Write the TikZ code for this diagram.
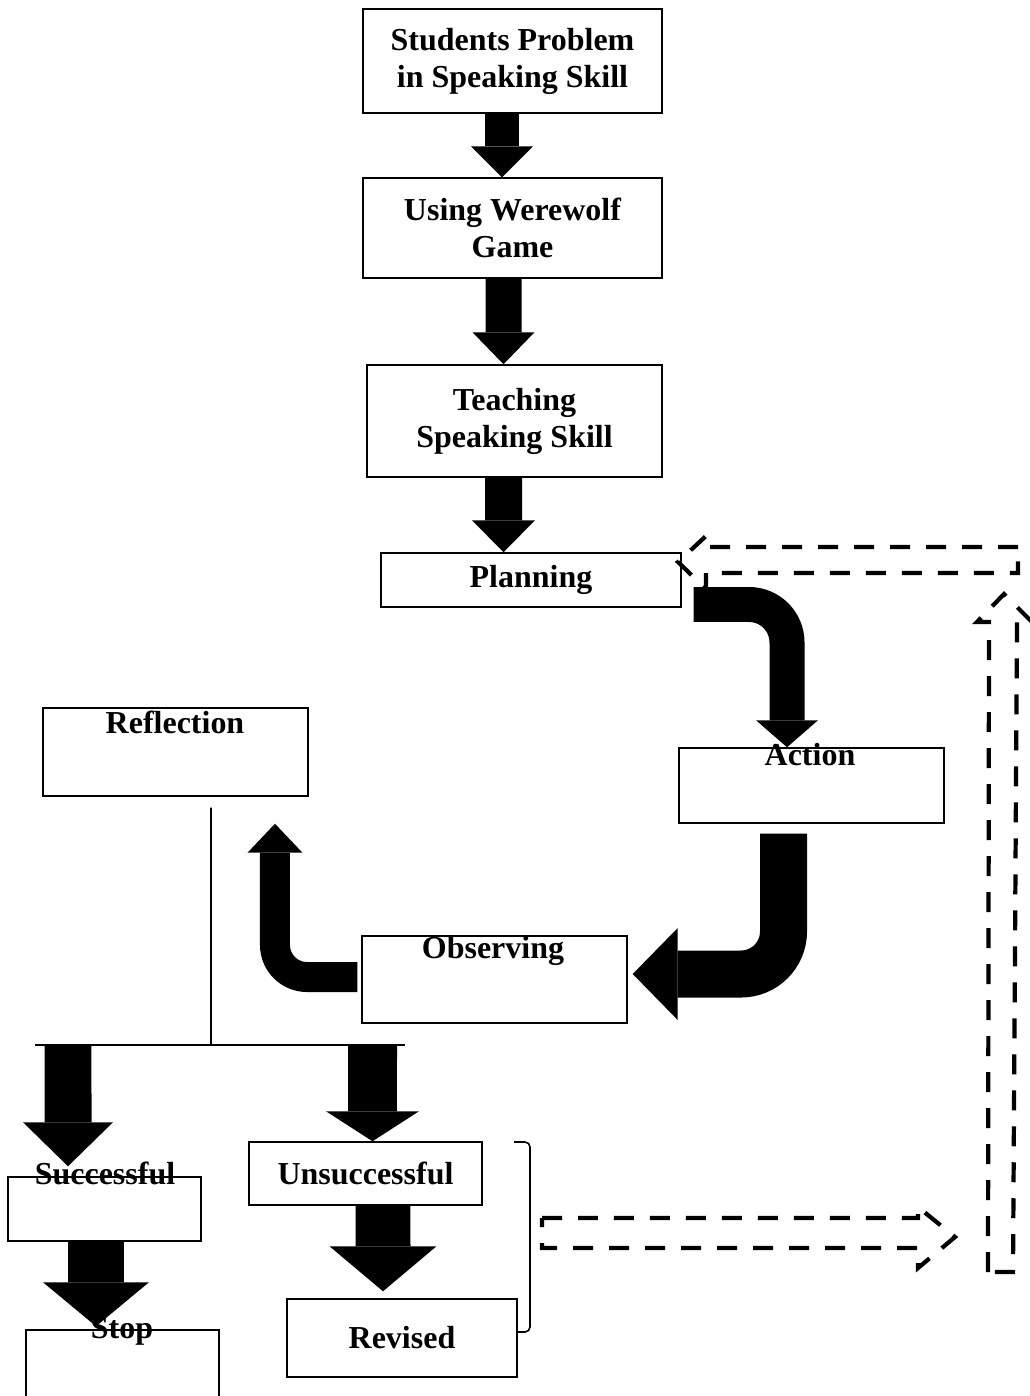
\documentclass[tikz,border=0pt]{standalone}
\usepackage{fontspec}
\setmainfont{Liberation Serif}
\usepackage{tikz}
\usetikzlibrary{arrows.meta}

\begin{document}
\begin{tikzpicture}[x=0.02cm, y=-0.02cm,
	box/.style={draw, line width=0.85pt, align=center, inner sep=0pt, font=\fontsize{18.2}{21}\selectfont\bfseries},
	lbl/.style={anchor=base, inner sep=0pt, font=\fontsize{18.2}{21}\selectfont\bfseries},
	fat/.style n args={3}{line width=#1cm, -{Triangle[length=#3cm, width=#2cm, line width=0pt]}},
	dashline/.style={line width=2.4pt, dash pattern=on 0.4cm off 0.32cm}]
	\useasboundingbox (0,0) rectangle (1030,1396);

	\node[box, minimum width=5.98cm, minimum height=2.08cm] (prob) at (512.5,61) {Students Problem\\in Speaking Skill};
	\node[box, minimum width=5.98cm, minimum height=2cm] (game) at (512.5,228) {Using Werewolf\\Game};
	\node[box, minimum width=5.9cm, minimum height=2.24cm] (teach) at (514.5,421) {Teaching\\Speaking Skill};
	\node[box, minimum width=6cm, minimum height=1.08cm] (plan) at (531,580) {Planning};
	\node[box, minimum width=5.3cm, minimum height=1.5cm] (act) at (811.5,785.5) {};
	\node[box, minimum width=5.3cm, minimum height=1.74cm] (obs) at (494.5,979.5) {};
	\node[box, minimum width=5.3cm, minimum height=1.76cm] (refl) at (175.5,752) {};
	\node[box, minimum width=3.86cm, minimum height=1.28cm] (succ) at (104.5,1209) {};
	\node[box, minimum width=3.86cm, minimum height=1.6cm] (stop) at (122.5,1370) {};
	\node[box, minimum width=4.66cm, minimum height=1.26cm] (unsuc) at (365.5,1173.5) {Unsuccessful};
	\node[box, minimum width=4.6cm, minimum height=1.56cm] (rev) at (402,1338) {Revised};

	\node[lbl] (actT) at (810,765) {Action};
	\node[lbl] (obsT) at (493,958) {Observing};
	\node[lbl] (reflT) at (175,733) {Reflection};
	\node[lbl] (succT) at (105,1184) {Successful};
	\node[lbl] (stopT) at (122,1338) {Stop};

	\coordinate (fork) at (211,1045);
	\coordinate (forkL) at (35,1045);
	\coordinate (forkR) at (405,1045);
	\coordinate (lft) at (68,1045);
	\coordinate (rgt) at (372.5,1044);
	\draw[line width=0.9pt] ([xshift=0.71cm, yshift=-0.22cm]refl.south) -- (fork);
	\draw[line width=0.9pt] (forkL) -- (forkR);
	\draw[line width=0.9pt, rounded corners=0.1cm] (514,1142) -- (530,1142) -- (530,1332) -- (rev.east |- 0,1332);

	\draw[fat={0.68}{1.24}{0.62}] ([xshift=-0.21cm]prob.south) -- ([xshift=-0.21cm]game.north);
	\draw[fat={0.72}{1.24}{0.64}] ([xshift=-0.18cm]game.south) -- ([xshift=-0.22cm]teach.north);
	\draw[fat={0.74}{1.26}{0.64}] ([xshift=-0.22cm]teach.south) -- ([xshift=-0.55cm]plan.north);
	\draw[fat={0.70}{1.24}{0.54}, rounded corners=0.76cm] ([xshift=0.24cm, yshift=-0.49cm]plan.east) -| ([xshift=-0.49cm]act.north);
	\draw[fat={0.94}{1.84}{0.90}, rounded corners=0.85cm] ([xshift=-0.56cm, yshift=-0.2cm]act.south) |- ([xshift=0.1cm, yshift=0.11cm]obs.east);
	\draw[fat={0.60}{1.10}{0.58}, rounded corners=0.64cm] ([xshift=-0.08cm, yshift=0.05cm]obs.west) -| ([xshift=1.99cm, yshift=-0.54cm]refl.south);
	\draw[fat={0.94}{1.80}{0.88}] (lft) -- ([xshift=-0.73cm, yshift=0.2cm]succ.north);
	\draw[fat={1.12}{2.12}{0.88}] ([xshift=-0.17cm]succ.south) -- ([xshift=-0.53cm, yshift=0.06cm]stop.north);
	\draw[fat={0.98}{1.86}{0.60}] (rgt) -- ([xshift=0.14cm]unsuc.north);
	\draw[fat={1.10}{2.14}{0.90}] ([xshift=0.35cm]unsuc.south) -- ([xshift=-0.38cm, yshift=0.14cm]rev.north);

	\draw[dashline] (542,1218) -- (918,1218) -- (918,1207) -- (955,1237) -- (918,1268) -- (918,1248) -- (542,1248) -- cycle;
	\draw[dashline] (988,1272) -- (989,622) -- (977,622) -- (1004,594) -- (1032,622) -- (1017,622) -- (1013,1272) -- cycle;
	\draw[dashline] (1018,547) -- (706,547) -- (706,536) -- (678,562) -- (706,589) -- (706,573) -- (1018,573) -- cycle;
\end{tikzpicture}
\end{document}
